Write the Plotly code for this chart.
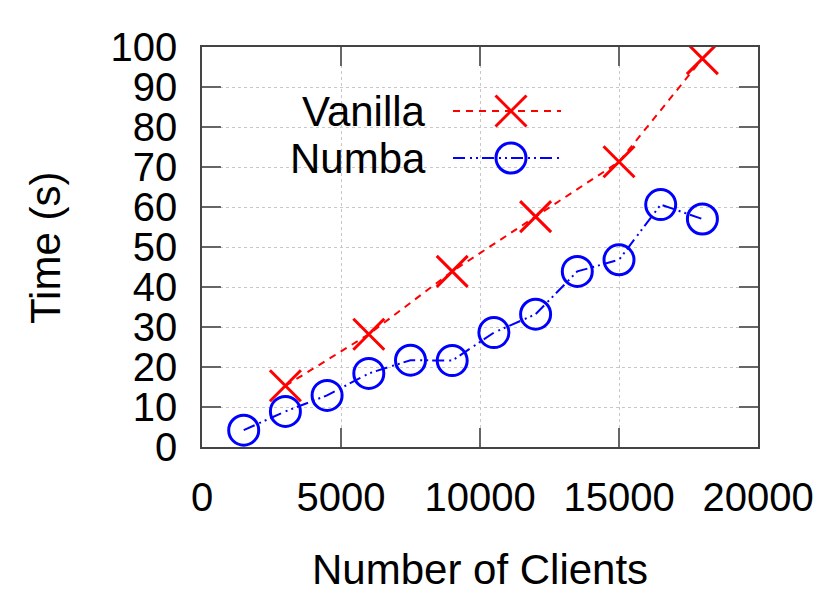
import plotly.graph_objects as go

# ---- data ----
vanilla_x = [3000, 6000, 9000, 12000, 15000, 18000]
vanilla_y = [15.3, 28.2, 43.9, 57.6, 71.3, 97.1]
numba_x = [1500, 3000, 4500, 6000, 7500, 9000, 10500, 12000, 13500, 15000, 16500, 18000]
numba_y = [4.2, 8.9, 12.9, 18.4, 21.7, 21.6, 28.6, 33.2, 43.9, 46.8, 60.6, 57.0]
x_ticks = [0, 5000, 10000, 15000, 20000]
y_ticks = [0, 10, 20, 30, 40, 50, 60, 70, 80, 90, 100]
series_names = ["Vanilla", "Numba"]

FONT = "Liberation Sans, Arial, sans-serif"
FS_TICK = 40
FS_TEXT = 42
RED = "#ff0000"
BLUE = "#0000ff"
VAN_DASH = "7px,6px"
NUM_DASH = "12px,5px,2px,4px,2px,4px"
X_SIZE = 31
O_SIZE = 30

# page body has an 8px margin; plot area target (window px): x 202..758, y 47..447
OFF = 8
W, H = 830 - 2 * OFF, 600 - 2 * OFF
PL, PR, PT, PB = 202 - OFF, 758 - OFF, 47 - OFF, 447 - OFF
PW, PH = PR - PL, PB - PT


def px(xw):
    return (xw - 202) / PW


def py(yw):
    return (447 - yw) / PH


fig = go.Figure()

fig.add_trace(go.Scatter(
    x=vanilla_x, y=vanilla_y, mode="lines+markers", name=series_names[0],
    line=dict(color=RED, width=2, dash=VAN_DASH),
    marker=dict(symbol="x-thin-open", size=X_SIZE, color=RED, line=dict(color=RED, width=3)),
    showlegend=False))
fig.add_trace(go.Scatter(
    x=numba_x, y=numba_y, mode="lines+markers", name=series_names[1],
    line=dict(color=BLUE, width=2, dash=NUM_DASH),
    marker=dict(symbol="circle-open", size=O_SIZE, color=BLUE, line=dict(color=BLUE, width=3)),
    showlegend=False))

# ---- hand-made legend (gnuplot style: text left, sample right) ----
leg_x0, leg_xm, leg_x1 = px(453), px(511), px(561)
leg_rows = [(py(111), RED, VAN_DASH, "x-thin-open", X_SIZE), (py(158), BLUE, NUM_DASH, "circle-open", O_SIZE)]
for name, (yy, col, dash, sym, sz) in zip(series_names, leg_rows):
    fig.add_trace(go.Scatter(x=[leg_x0, leg_x1], y=[yy, yy], mode="lines",
                             line=dict(color=col, width=2, dash=dash),
                             xaxis="x2", yaxis="y2", showlegend=False, hoverinfo="skip"))
    fig.add_trace(go.Scatter(x=[leg_xm], y=[yy], mode="markers",
                             marker=dict(symbol=sym, size=sz, color=col, line=dict(color=col, width=3)),
                             xaxis="x2", yaxis="y2", showlegend=False, hoverinfo="skip"))
    fig.add_annotation(x=px(428), y=yy, xref="paper", yref="paper", text=name,
                       showarrow=False, xanchor="right", yanchor="middle",
                       font=dict(family=FONT, size=FS_TEXT, color="black"))

# white box behind legend (hides grid)
fig.add_shape(type="rect", xref="paper", yref="paper", x0=px(264), x1=px(591), y0=py(185), y1=py(90),
              fillcolor="white", line=dict(width=0), layer="below")

axis_common = dict(
    showline=True, linecolor="#444444", linewidth=1.5, mirror="ticks",
    ticks="inside", ticklen=19, tickwidth=1.5, tickcolor="#666666",
    showgrid=True, gridcolor="#c8c8c8", griddash="dot", gridwidth=1,
    zeroline=False,
    tickfont=dict(family=FONT, size=FS_TICK, color="black"),
)

fig.update_layout(
    width=W, height=H,
    margin=dict(l=PL, r=W - PR, t=PT, b=H - PB, autoexpand=False),
    paper_bgcolor="white", plot_bgcolor="white",
    showlegend=False,
    xaxis=dict(range=[0, 20000], tickvals=x_ticks, ticktext=[str(v) for v in x_ticks],
               ticklabelstandoff=14, **axis_common),
    yaxis=dict(range=[0, 100], tickvals=y_ticks, ticktext=[str(v) for v in y_ticks],
               ticklabelstandoff=15, **axis_common),
    xaxis2=dict(overlaying="x", range=[0, 1], visible=False),
    yaxis2=dict(overlaying="y", range=[0, 1], visible=False),
)

fig.add_annotation(x=px(480), y=py(569), xref="paper", yref="paper", text="Number of Clients",
                   showarrow=False, xanchor="center", yanchor="middle",
                   font=dict(family=FONT, size=FS_TEXT, color="black"))
fig.add_annotation(x=px(46), y=py(248), xref="paper", yref="paper",
                   text="Time (s)", showarrow=False, textangle=-90,
                   xanchor="center", yanchor="middle",
                   font=dict(family=FONT, size=FS_TEXT, color="black"))

fig.write_html("out.html")
